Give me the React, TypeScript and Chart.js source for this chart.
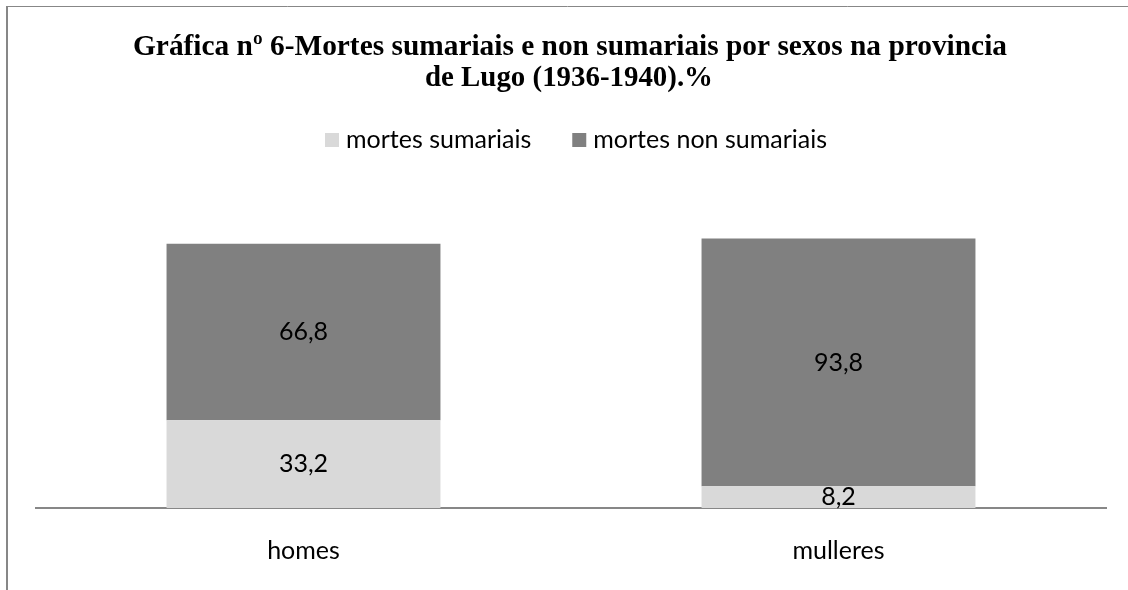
import { useEffect, useRef } from 'react';
import { Chart, registerables } from 'chart.js';

Chart.register(...registerables);

const categories = ['homes', 'mulleres'];
const seriesNames = ['mortes sumariais', 'mortes non sumariais'];
const sumariais = [33.2, 8.2];
const nonSumariais = [66.8, 93.8];
const titleLines = [
  'Gráfica nº 6-Mortes sumariais e non sumariais por sexos na provincia',
  'de Lugo (1936-1940).%',
];
const seriesColors = ['#d9d9d9', '#808080'];

const W = 1128;
const H = 590;
const SANS = 'Lato, "Open Sans", sans-serif';
const SANS_SIZE = 25;

const decorPlugin = {
  id: 'decor',
  beforeDraw(chart: any) {
    const ctx = chart.ctx;
    ctx.save();
    // frame
    ctx.strokeStyle = '#878787';
    ctx.lineWidth = 1;
    ctx.beginPath();
    ctx.moveTo(7, 6.5);
    ctx.lineTo(W, 6.5);
    ctx.stroke();
    ctx.lineWidth = 2;
    ctx.beginPath();
    ctx.moveTo(7, 6);
    ctx.lineTo(7, H);
    ctx.stroke();

    // title
    ctx.fillStyle = '#000';
    ctx.font = 'bold 30px "Liberation Serif", "Times New Roman", serif';
    ctx.textAlign = 'center';
    ctx.textBaseline = 'alphabetic';
    ctx.fillText(titleLines[0], 570, 55, 874);
    ctx.fillText(titleLines[1], 569, 86, 288);

    // legend
    ctx.font = `${SANS_SIZE}px ${SANS}`;
    const box = 14;
    const gap = 7;
    const spacing = 41;
    const widths = seriesNames.map((n) => ctx.measureText(n).width);
    const total = widths.reduce((a, w) => a + box + gap + w, 0) + spacing * (seriesNames.length - 1);
    let x = 576 - total / 2;
    const cy = 140;
    ctx.textAlign = 'left';
    ctx.textBaseline = 'middle';
    seriesNames.forEach((n, i) => {
      ctx.fillStyle = seriesColors[i];
      ctx.fillRect(x, cy - box / 2, box, box);
      ctx.fillStyle = '#000';
      ctx.fillText(n, x + box + gap, cy);
      x += box + gap + widths[i] + spacing;
    });
    ctx.restore();
  },
};

const valueLabelPlugin = {
  id: 'valueLabels',
  afterDatasetsDraw(chart: any) {
    const ctx = chart.ctx;
    ctx.save();
    ctx.font = `${SANS_SIZE}px ${SANS}`;
    ctx.fillStyle = '#000';
    ctx.textAlign = 'center';
    ctx.textBaseline = 'middle';
    chart.data.datasets.forEach((ds: any, i: number) => {
      const meta = chart.getDatasetMeta(i);
      meta.data.forEach((bar: any, j: number) => {
        const { x, y, base } = bar.getProps(['x', 'y', 'base'], true);
        const v = ds.data[j];
        ctx.fillText(String(v).replace('.', ','), x, (y + base) / 2);
      });
    });
    ctx.restore();
  },
};

export default function App() {
  const ref = useRef<HTMLCanvasElement>(null);
  useEffect(() => {
    if (!ref.current) return;
    const chart = new Chart(ref.current, {
      type: 'bar',
      data: {
        labels: categories,
        datasets: [
          {
            label: seriesNames[0],
            data: sumariais,
            backgroundColor: seriesColors[0],
            borderWidth: 0,
            categoryPercentage: 1,
            barPercentage: 0.512,
          },
          {
            label: seriesNames[1],
            data: nonSumariais,
            backgroundColor: seriesColors[1],
            borderWidth: 0,
            categoryPercentage: 1,
            barPercentage: 0.512,
          },
        ],
      },
      options: {
        responsive: false,
        animation: false,
        devicePixelRatio: 1,
        layout: { padding: { top: 191, left: 36, right: 22, bottom: 22 } },
        plugins: {
          legend: { display: false },
          title: { display: false },
          tooltip: { enabled: false },
        },
        scales: {
          x: {
            stacked: true,
            grid: { display: false, drawTicks: false },
            border: { display: true, color: '#878787', width: 2 },
            ticks: {
              color: '#000',
              font: { family: SANS, size: SANS_SIZE },
              padding: 28,
            },
            afterFit: (scale: any) => {
              scale.height = 60;
            },
          },
          y: {
            stacked: true,
            display: false,
            min: 0,
            max: 120,
          },
        },
      },
      plugins: [decorPlugin, valueLabelPlugin],
    });
    return () => chart.destroy();
  }, []);
  return (
    <div style={{ position: 'absolute', left: 0, top: 0, width: W, height: H, background: '#fff' }}>
      <canvas ref={ref} width={W} height={H} style={{ display: 'block', width: W, height: H }} />
    </div>
  );
}
